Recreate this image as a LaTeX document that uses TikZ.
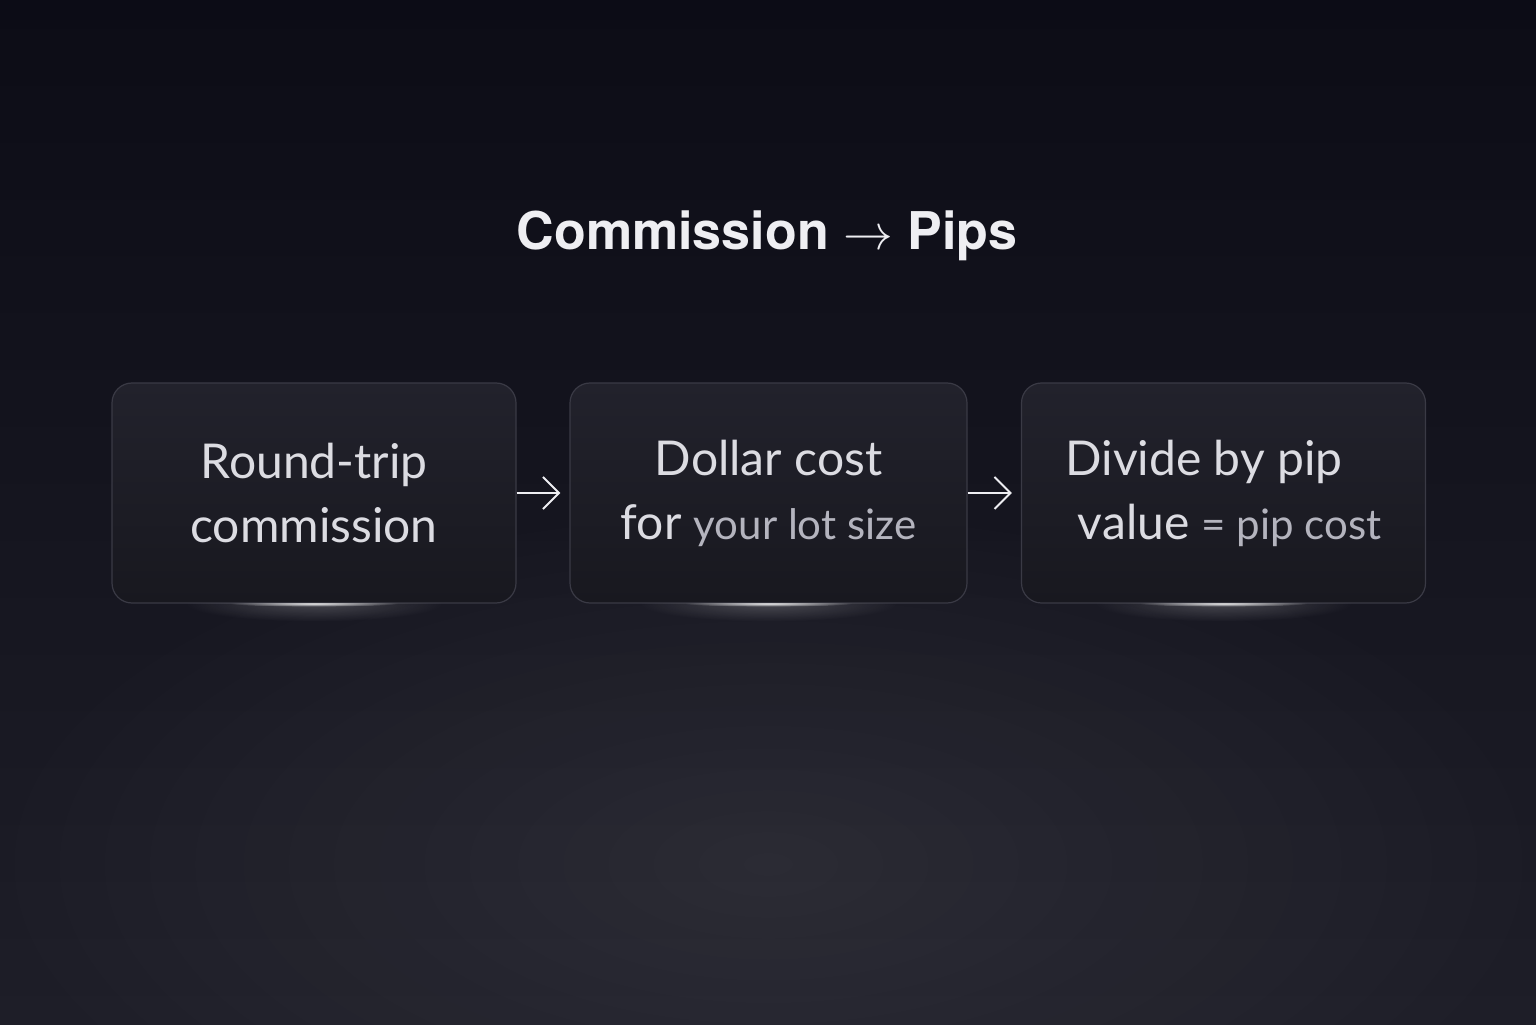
\documentclass[tikz,border=0pt]{standalone}
\usepackage{fontspec}
\setmainfont{Lato}
\newfontfamily\headfont{TeX Gyre Heros}
\usetikzlibrary{arrows.meta,fadings}
\definecolor{bgtop}{HTML}{0C0C16}
\definecolor{bgbot}{HTML}{1E1E28}
\definecolor{boxtop}{HTML}{22222C}
\definecolor{boxbot}{HTML}{18181F}
\definecolor{boxline}{HTML}{3A3A45}
\definecolor{boxtext}{HTML}{DCDCE2}
\definecolor{subtext}{HTML}{B4B4BE}
\definecolor{headtext}{HTML}{EEEEF2}
\tikzfading[name=glowfade, inner color=transparent!0, outer color=transparent!100]

\begin{document}
\begin{tikzpicture}[x=0.5pt, y=0.5pt,
    stepbox/.style={draw=boxline, line width=0.6pt, top color=boxtop, bottom color=boxbot,
      rounded corners=10pt, minimum width=202pt, minimum height=110pt,
      text=boxtext, font=\fontsize{24}{32}\selectfont},
    flow/.style={draw=headtext, line width=1pt, -{Straight Barb[length=8pt,width=16pt]}, shorten >=4.5pt},
    glow/.style={fill=white, path fading=glowfade}]
  \useasboundingbox (0,0) rectangle (1536,1024);
  \shade[top color=bgtop, bottom color=bgbot] (0,0) rectangle (1536,1024);
  \begin{scope}
    \clip (0,0) rectangle (1536,1024);
    \fill[glow, opacity=0.07] (768,160) ellipse (820 and 380);
  \end{scope}

  \node[anchor=base, text=headtext, font=\headfont\bfseries\fontsize{26}{30}\selectfont] (title) at (767,774)
    {Commission $\rightarrow$ Pips};

  \node[stepbox, align=center] (round) at (314,531) {Round-trip\\commission};
  \node[stepbox, align=center, minimum width=198.5pt] (dollar) at (768.5,531)
    {Dollar cost\\for {\fontsize{21}{32}\selectfont\color{subtext}your lot size}};
  \node[stepbox, align=left] (divide) at (1223.5,531)
    {Divide by pip\\\ value {\fontsize{21}{32}\selectfont\color{subtext}= pip cost}};

  \draw[flow] (round) -- (dollar);
  \draw[flow] (dollar) -- (divide);

  \begin{scope}
    \clip (0,0) rectangle (1536,421);
    \fill[glow, opacity=0.2] (round.south) ellipse (130 and 18);
    \fill[glow, opacity=0.85] (round.south) ellipse (85 and 3);
    \fill[glow, opacity=0.2] (dollar.south) ellipse (130 and 18);
    \fill[glow, opacity=0.85] (dollar.south) ellipse (85 and 3);
    \fill[glow, opacity=0.2] (divide.south) ellipse (130 and 18);
    \fill[glow, opacity=0.85] (divide.south) ellipse (85 and 3);
  \end{scope}
\end{tikzpicture}
\end{document}
